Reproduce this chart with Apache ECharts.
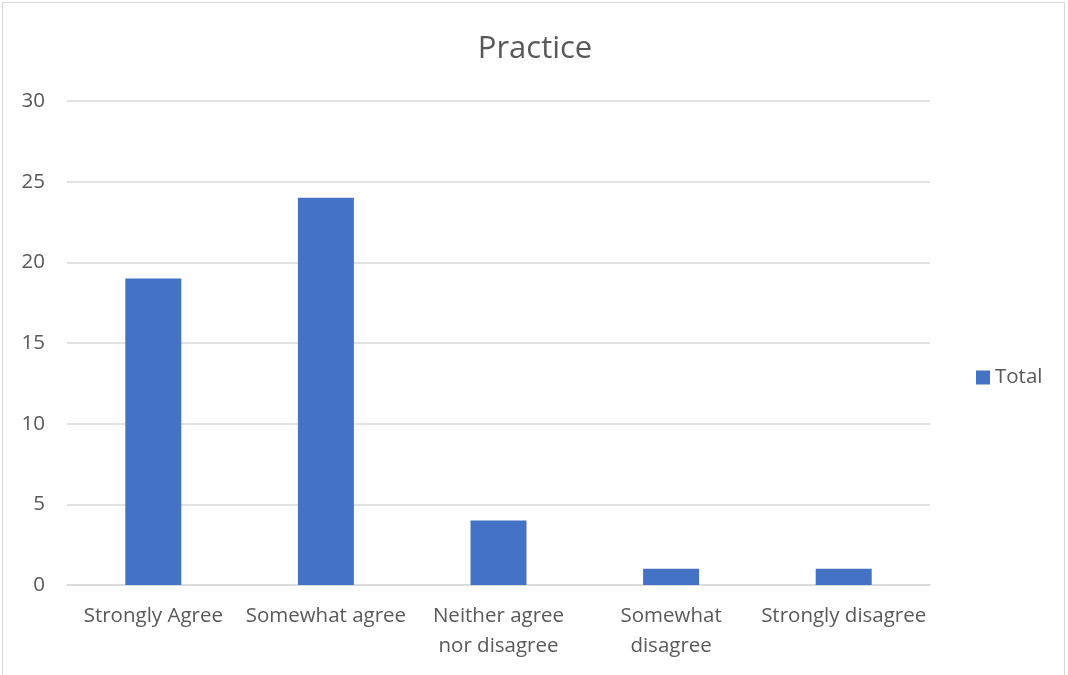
<!DOCTYPE html>
<html>
<head>
<meta charset="utf-8">
<script src="https://cdn.jsdelivr.net/npm/echarts@6/dist/echarts.min.js"></script>
<style>
  html, body { margin: 0; padding: 0; background: #fff; }
  #frame { position: absolute; left: 2px; top: 2px; width: 1063px; height: 700px;
           border: 1px solid #d9d9d9; border-bottom: none; box-sizing: border-box; }
  #chart { position: absolute; left: 0; top: 0; width: 1068px; height: 675px; }
</style>
</head>
<body>
<div id="frame"></div>
<div id="chart"></div>
<script>
// chart data
const categories = ['Strongly Agree', 'Somewhat agree', 'Neither agree\nnor disagree', 'Somewhat\ndisagree', 'Strongly disagree'];
const totals = [19, 24, 4, 1, 1];
const seriesName = 'Total';

const font = '"Open Sans", "Noto Sans", sans-serif';
const textColor = '#595959';

const chart = echarts.init(document.getElementById('chart'));
chart.setOption({
    backgroundColor: 'transparent',
    animation: false,
    title: {
        text: 'Practice',
        left: 530,
        top: 29,
        textAlign: 'center',
        textStyle: { color: textColor, fontFamily: font, fontSize: 31, fontWeight: 'normal' }
    },
    legend: {
        data: [seriesName],
        orient: 'vertical',
        left: 971,
        top: 362,
        itemWidth: 14,
        itemHeight: 14,
        itemGap: 5,
        icon: 'rect',
        textStyle: { color: textColor, fontFamily: font, fontSize: 20.5 }
    },
    grid: { left: 67, right: 138, top: 101, bottom: 90 },
    xAxis: {
        type: 'category',
        data: categories,
        axisTick: { show: false },
        axisLine: { lineStyle: { color: '#d9d9d9', width: 1.5 } },
        axisLabel: {
            color: textColor, fontFamily: font, fontSize: 20.5,
            interval: 0, margin: 16, lineHeight: 30
        }
    },
    yAxis: {
        type: 'value',
        min: 0,
        max: 30,
        interval: 5,
        axisLine: { show: false },
        axisTick: { show: false },
        splitLine: { lineStyle: { color: '#d9d9d9', width: 1.5 } },
        axisLabel: { color: textColor, fontFamily: font, fontSize: 20.5, margin: 22 }
    },
    series: [{
        name: seriesName,
        type: 'bar',
        data: totals,
        barWidth: 56,
        itemStyle: { color: '#4472C4' }
    }]
});
</script>
</body>
</html>
